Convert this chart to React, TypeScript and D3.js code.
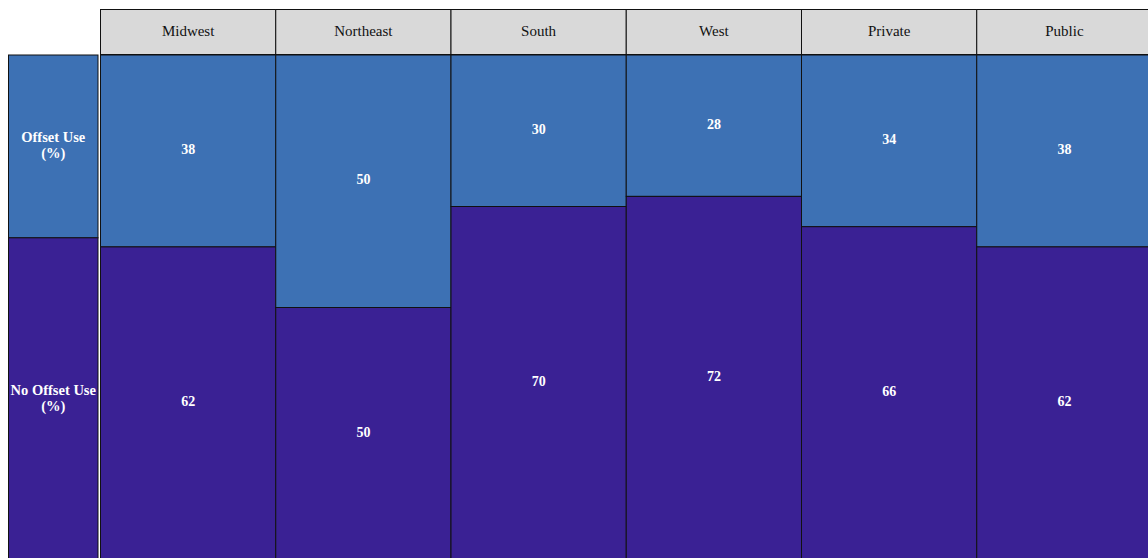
import React from "react";
import * as d3 from "d3";

// Share of respondents using offsets, by region and sector (%)
const categories = ["Midwest", "Northeast", "South", "West", "Private", "Public"];
const offsetUse = [38, 50, 30, 28, 34, 38];
const noOffsetUse = [62, 50, 70, 72, 66, 62];
const rowLabels = [["Offset Use", "(%)"], ["No Offset Use", "(%)"]];
// Overall split used for the row-label column
const overallSplit = [36.2, 63.8];

const W = 1148;
const H = 558;
const FONT = "'Liberation Serif', 'Times New Roman', serif";
const LIGHT = "#3d71b4";
const DARK = "#3a2194";

export default function App() {
  const headerTop = 9.5;
  const headerBottom = 54.5;
  const plotTop = 55;
  const plotBottom = 560;
  const labelLeft = 8.5;
  const labelRight = 98;

  const x = d3.scaleBand<string>().domain(categories).range([100.5, 1152]).padding(0);
  const y = d3.scaleLinear().domain([0, 100]).range([plotTop, plotBottom]);

  const cumRows = [0, overallSplit[0], 100];

  return (
    <svg width={W} height={H} style={{ position: "absolute", left: 0, top: 0, display: "block" }}>
      {/* column headers */}
      {categories.map((c) => (
        <g key={"h" + c}>
          <rect x={x(c)} y={headerTop} width={x.bandwidth()} height={headerBottom - headerTop}
            fill="#d9d9d9" stroke="#111" strokeWidth={1} />
          <text x={(x(c) as number) + x.bandwidth() / 2} y={(headerTop + headerBottom) / 2 + 4}
            textAnchor="middle" fontFamily={FONT} fontSize={15} fill="#111">{c}</text>
        </g>
      ))}

      {/* row labels */}
      {rowLabels.map((lines, i) => {
        const y0 = y(cumRows[i]);
        const y1 = y(cumRows[i + 1]);
        const cy = (y0 + y1) / 2;
        return (
          <g key={"r" + i}>
            <rect x={labelLeft} y={y0} width={labelRight - labelLeft} height={y1 - y0}
              fill={i === 0 ? LIGHT : DARK} stroke="#111" strokeWidth={1} />
            {lines.map((t, j) => (
              <text key={j} x={(labelLeft + labelRight) / 2} y={cy - 4 + j * 16}
                textAnchor="middle" fontFamily={FONT} fontSize={14.5} fontWeight="bold" fill="#fff">{t}</text>
            ))}
          </g>
        );
      })}

      {/* stacked columns */}
      {categories.map((c, i) => {
        const x0 = x(c) as number;
        const bw = x.bandwidth();
        const segs = [
          { v0: 0, v1: offsetUse[i], val: offsetUse[i], fill: LIGHT },
          { v0: offsetUse[i], v1: offsetUse[i] + noOffsetUse[i], val: noOffsetUse[i], fill: DARK },
        ];
        return (
          <g key={"c" + c}>
            {segs.map((s, k) => {
              const y0 = y(s.v0);
              const y1 = y(s.v1);
              return (
                <g key={k}>
                  <rect x={x0} y={y0} width={bw} height={y1 - y0} fill={s.fill} stroke="#111" strokeWidth={1} />
                  <text x={x0 + bw / 2} y={(y0 + y1) / 2 + 3} textAnchor="middle"
                    fontFamily={FONT} fontSize={14} fontWeight="bold" fill="#fff">{s.val}</text>
                </g>
              );
            })}
          </g>
        );
      })}
    </svg>
  );
}
